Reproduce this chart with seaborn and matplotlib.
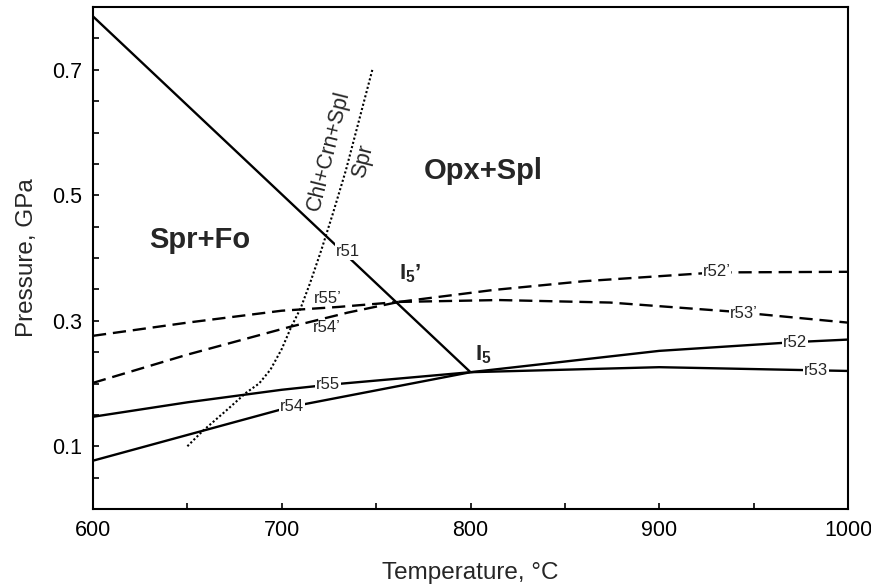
import matplotlib
matplotlib.use("Agg")
import matplotlib.pyplot as plt
import seaborn as sns
import numpy as np

sns.set_style("ticks")
plt.rcParams['font.family'] = ['Liberation Sans', 'DejaVu Sans']
plt.rcParams['mathtext.fontset'] = 'custom'
plt.rcParams['mathtext.rm'] = 'Liberation Sans'
plt.rcParams['mathtext.bf'] = 'Liberation Sans:bold'

# ---- data (Temperature °C, Pressure GPa) ----
r51_T = [600, 800]
r51_P = [0.785, 0.218]

r55_T = [600, 650, 700, 725, 800]
r55_P = [0.147, 0.170, 0.190, 0.198, 0.218]

r54_T = [600, 650, 705, 800]
r54_P = [0.077, 0.118, 0.163, 0.218]

r52_T = [800, 900, 972, 1000]
r52_P = [0.218, 0.252, 0.266, 0.270]

r53_T = [800, 900, 983, 1000]
r53_P = [0.218, 0.226, 0.221, 0.220]

r55p_T = [600, 650, 700, 730, 762]
r55p_P = [0.276, 0.297, 0.316, 0.322, 0.330]

r54p_T = [600, 650, 704, 735, 762]
r54p_P = [0.201, 0.246, 0.290, 0.313, 0.330]

r52p_T = [762, 812, 860, 900, 930, 1000]
r52p_P = [0.330, 0.349, 0.363, 0.371, 0.377, 0.378]

r53p_T = [762, 815, 874, 937, 1000]
r53p_P = [0.330, 0.333, 0.329, 0.315, 0.297]

spr_T = [650, 658, 671, 681, 688, 694, 700, 705, 710, 715, 721, 727, 734, 741, 748]
spr_P = [0.100, 0.124, 0.158, 0.185, 0.200, 0.222, 0.255, 0.290, 0.320, 0.360, 0.413, 0.470, 0.540, 0.620, 0.700]

x_major = [600, 700, 800, 900, 1000]
x_minor = [650, 750, 850, 950]
y_major = [0.1, 0.3, 0.5, 0.7]
y_minor = [0.05, 0.15, 0.2, 0.25, 0.35, 0.4, 0.45, 0.55, 0.6, 0.65, 0.75]

fig = plt.figure(figsize=(8.71, 5.86), dpi=100)
ax = fig.add_axes([93/871, 1-509/586, (848-93)/871, (509-7)/586])

LW = 1.7
def draw(T, P, style):
    sns.lineplot(x=T, y=P, ax=ax, color='black', lw=LW, sort=False, estimator=None)
    ln = ax.lines[-1]
    if style == 'dash':
        ln.set_dashes((5.6, 2.9))
    elif style == 'dot':
        ln.set_linewidth(1.5)
        ln.set_dashes((1.0, 1.1))
    ln.set_solid_capstyle('butt')

draw(spr_T, spr_P, 'dot')
for T, P in [(r51_T, r51_P), (r55_T, r55_P), (r54_T, r54_P), (r52_T, r52_P), (r53_T, r53_P)]:
    draw(T, P, 'solid')
for T, P in [(r55p_T, r55p_P), (r54p_T, r54p_P), (r52p_T, r52p_P), (r53p_T, r53p_P)]:
    draw(T, P, 'dash')

ax.set_xlim(600, 1000)
ax.set_ylim(0, 0.8)
ax.set_xticks(x_major)
ax.set_xticks(x_minor, minor=True)
ax.set_yticks(y_major)
ax.set_yticks(y_minor, minor=True)
ax.set_yticklabels(['0.1', '0.3', '0.5', '0.7'])
ax.tick_params(which='both', direction='in', length=4.3, width=1.2, color='black',
               labelsize=15.5, labelcolor='black')
ax.tick_params(axis='x', pad=8)
ax.tick_params(axis='y', pad=8)
for s in ax.spines.values():
    s.set_visible(True)
    s.set_linewidth(1.5)
    s.set_color('black')

ax.set_xlabel('Temperature, °C', fontsize=17.5, labelpad=15)
ax.set_ylabel('Pressure, GPa', fontsize=17.5, labelpad=10)

lab_bbox = dict(facecolor='white', edgecolor='none', pad=0.6)
def lab(x, y, s, bb=True):
    ax.text(x, y, s, fontsize=12, ha='center', va='center',
            bbox=lab_bbox if bb else None, zorder=5)

lab(735.3, 0.410, 'r51')
lab(724.5, 0.198, 'r55')
lab(705.4, 0.163, 'r54')
lab(971.9, 0.266, 'r52')
lab(983.0, 0.221, 'r53')
lab(930.4, 0.3785, 'r52’')
lab(944.9, 0.311, 'r53’')
lab(724.5, 0.335, 'r55’', bb=False)
lab(724.0, 0.290, 'r54’', bb=False)

ax.text(656.7, 0.429, 'Spr+Fo', fontsize=21, fontweight='bold', ha='center', va='center')
ax.text(806.6, 0.538, 'Opx+Spl', fontsize=21, fontweight='bold', ha='center', va='center')
ax.text(725.0, 0.571, 'Chl+Crn+Spl', fontsize=15.5, rotation=76, ha='center', va='center',
        rotation_mode='anchor')
ax.text(743.2, 0.555, 'Spr', fontsize=15.5, rotation=76, ha='center', va='center',
        rotation_mode='anchor')
ax.text(768.2, 0.375, r'$\mathbf{I_5}$’', fontsize=16, fontweight='bold', ha='center', va='center')
ax.text(806.9, 0.246, r'$\mathbf{I_5}$', fontsize=16, fontweight='bold', ha='center', va='center')

fig.savefig('out.png', dpi=100)
